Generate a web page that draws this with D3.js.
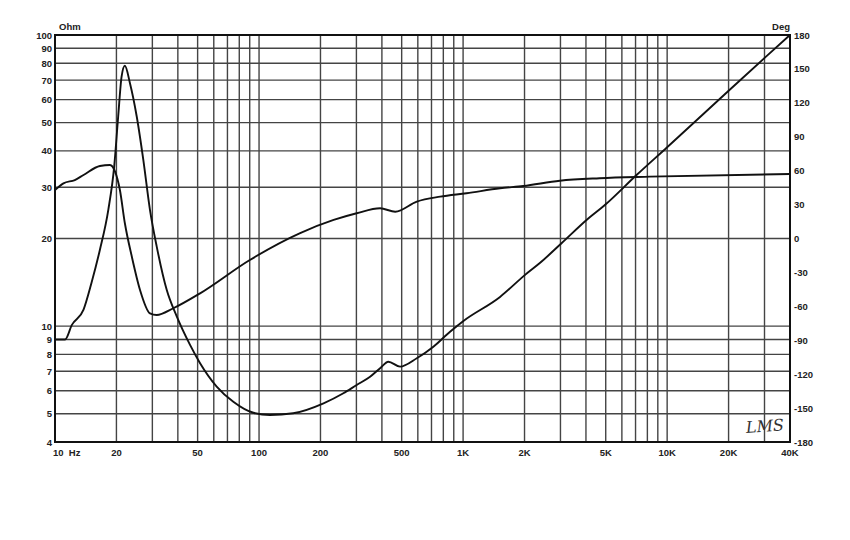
<!DOCTYPE html>
<html><head><meta charset="utf-8">
<script src="https://cdn.jsdelivr.net/npm/d3@7"></script>
<style>
html,body{margin:0;padding:0;background:#fff;}
svg text{font-family:"Liberation Sans",Arial,sans-serif;font-weight:bold;fill:#222;}
</style></head>
<body><svg id="c" width="850" height="540"></svg>
<script>
// ---- data ----
const impFreq = [10,11.2,12.1,13.8,15.1,16.6,18.25,19.5,20.4,21.2,22.0,23.3,25.15,27.1,29.2,31.5,35.3,39.5,45.9,51.4,62,74.8,93.8,113,147,207,259,301,350,392,430,491,593,715,863,1000,1517,2013,2385,3045,4040,4966,7100,9970,19950,30800,40000];
const impOhm  = [9.0,9.0,10.1,11.4,14.1,18.3,25.1,35.3,52.5,72.0,78.4,68.3,52.5,37.2,25.1,18.8,13.3,10.8,8.62,7.46,6.2,5.5,5.04,4.95,5.02,5.43,5.88,6.28,6.7,7.17,7.55,7.26,7.76,8.5,9.57,10.4,12.6,15.0,16.5,19.3,23.2,26.1,33.1,41.1,64.2,84.8,100];
const phaseFreq = [10,11.0,12.5,13.8,16.6,18.6,19.7,20.8,22.0,23.8,26.1,29.2,31.5,38.0,51.4,90.1,158,232,301,392,465,593,772,1040,1517,1970,2980,4660,8230,40000];
const phaseDeg  = [42.9,48.8,51.7,56.2,64.1,65.0,59.1,42.9,13.5,-16.1,-45.5,-66.2,-67.7,-61.7,-48.5,-19,4.6,16.4,22.3,26.7,23.7,32.6,37,40,44.4,46.4,51.1,53.3,54.7,57.1];
const ohmTicks = [100,90,80,70,60,50,40,30,20,10,9,8,7,6,5,4];
const degTicks = [180,150,120,90,60,30,0,-30,-60,-90,-120,-150,-180];
const freqGrid = [20,30,40,50,60,70,80,90,100,200,300,400,500,600,700,800,900,1000,2000,3000,4000,5000,6000,7000,8000,9000,10000,20000,30000];
const freqLabelVals = [20,50,100,200,500,1000,2000,5000,10000,20000,40000];
const freqLabelText = ["20","50","100","200","500","1K","2K","5K","10K","20K","40K"];

// ---- layout ----
const L=55, R=790, T=35, B=442;
const svg = d3.select("#c");
const x = d3.scaleLog().domain([10,40000]).range([L,R]);
const yO = d3.scaleLog().domain([4,100]).range([B,T]);
const yD = d3.scaleLinear().domain([-180,180]).range([B,T]);

const g = svg.append("g");
// grid
g.selectAll(".vg").data(freqGrid).join("line")
  .attr("x1",d=>x(d)).attr("x2",d=>x(d)).attr("y1",T).attr("y2",B)
  .attr("stroke","#444").attr("stroke-width",1.4);
g.selectAll(".hg").data(ohmTicks.filter(d=>d!==100&&d!==4)).join("line")
  .attr("y1",d=>yO(d)).attr("y2",d=>yO(d)).attr("x1",L).attr("x2",R)
  .attr("stroke","#444").attr("stroke-width",1.4);
// frame
g.append("rect").attr("x",L).attr("y",T).attr("width",R-L).attr("height",B-T)
  .attr("fill","none").attr("stroke","#111").attr("stroke-width",2);

// axes labels
g.selectAll(".ol").data(ohmTicks).join("text")
  .attr("x",52).attr("y",d=>yO(d)+3.5).attr("text-anchor","end")
  .attr("font-size",9.5).text(d=>d);
g.selectAll(".dl").data(degTicks).join("text")
  .attr("x",794).attr("y",d=>yD(d)+3.5).attr("text-anchor","start")
  .attr("font-size",9.5).text(d=>d);
g.selectAll(".fl").data(freqLabelVals).join("text")
  .attr("x",d=>x(d)).attr("y",456).attr("text-anchor","middle")
  .attr("font-size",9.5).text((d,i)=>freqLabelText[i]);
g.append("text").attr("x",53).attr("y",456).attr("font-size",9.5).attr("xml:space","preserve").text("10  Hz");
g.append("text").attr("x",59).attr("y",30).attr("font-size",9.5).text("Ohm");
g.append("text").attr("x",790).attr("y",30).attr("text-anchor","end").attr("font-size",9.5).text("Deg");

// curves
const lineImp = d3.line().x((d,i)=>x(impFreq[i])).y(d=>yO(d)).curve(d3.curveMonotoneX);
const linePh = d3.line().x((d,i)=>x(phaseFreq[i])).y(d=>yD(d)).curve(d3.curveMonotoneX);
g.append("path").attr("d",linePh(phaseDeg)).attr("fill","none").attr("stroke","#111").attr("stroke-width",1.9);
g.append("path").attr("d",lineImp(impOhm)).attr("fill","none").attr("stroke","#111").attr("stroke-width",1.9);

// logo
g.append("text").attr("x",746).attr("y",432)
  .attr("style","font-family:'DejaVu Serif',serif;font-style:italic;font-weight:normal;font-size:16px;fill:#333;")
  .attr("transform","rotate(-4,760,428)").text("LMS");
</script></body></html>
